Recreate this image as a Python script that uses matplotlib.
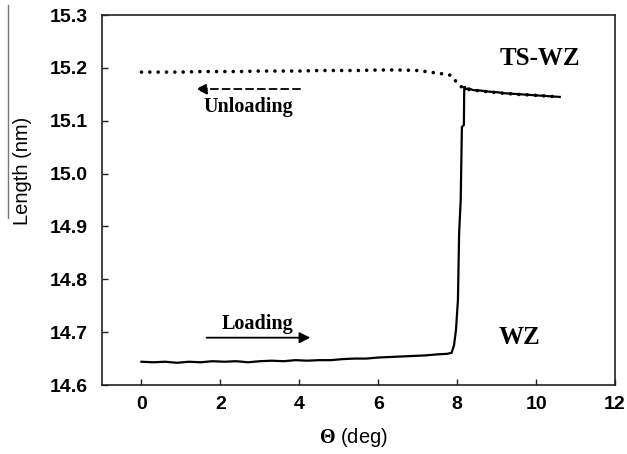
import matplotlib
matplotlib.use("Agg")
import matplotlib.pyplot as plt
from matplotlib.lines import Line2D

plt.rcParams["mathtext.fontset"] = "custom"
plt.rcParams["mathtext.bf"] = "Liberation Serif:bold"
plt.rcParams["mathtext.rm"] = "Liberation Sans"

# Loading curve (solid)
load_x = [0.0, 0.3, 0.6, 0.9, 1.2, 1.5, 1.8, 2.1, 2.4, 2.7, 3.0, 3.3, 3.6, 3.9,
          4.2, 4.5, 4.8, 5.1, 5.4, 5.7, 6.0, 6.3, 6.6, 6.9, 7.2, 7.5, 7.75, 7.86,
          7.92, 7.97, 8.02, 8.05, 8.09, 8.12, 8.17, 8.18, 8.22, 8.3, 8.4, 8.6,
          8.8, 9.0, 9.2, 9.4, 9.6, 9.8, 10.0, 10.2, 10.4, 10.6]
load_y = [14.644, 14.643, 14.644, 14.642, 14.644, 14.643, 14.645, 14.644, 14.645, 14.643,
          14.645, 14.646, 14.645, 14.647, 14.646, 14.647, 14.647, 14.649, 14.650, 14.650,
          14.652, 14.653, 14.654, 14.655, 14.656, 14.658, 14.659, 14.661,
          14.675, 14.704, 14.761, 14.888, 14.950, 15.088, 15.092, 15.165, 15.160, 15.161, 15.158, 15.157,
          15.155, 15.154, 15.152, 15.151, 15.150, 15.149, 15.148, 15.147, 15.146, 15.145]

# Unloading curve (dotted)
unload_x = [0.0, 0.5, 1.0, 1.5, 2.0, 2.5, 3.0, 3.5, 4.0, 4.5, 5.0, 5.5, 6.0, 6.5,
            7.0, 7.3, 7.6, 7.84, 7.95, 8.09, 8.2, 8.5, 9.0, 9.5, 10.0, 10.6]
unload_y = [15.192, 15.192, 15.192, 15.193, 15.193, 15.193, 15.194, 15.194, 15.194, 15.195,
            15.195, 15.195, 15.196, 15.196, 15.195, 15.192, 15.189, 15.186, 15.176, 15.165,
            15.160, 15.157, 15.153, 15.150, 15.148, 15.145]

x_ticks = [0, 2, 4, 6, 8, 10, 12]
y_ticks = [14.6, 14.7, 14.8, 14.9, 15.0, 15.1, 15.2, 15.3]

fig = plt.figure(figsize=(6.27, 4.54), dpi=100)
ax = fig.add_axes([102/627, 1-385/454, 513/627, 370/454])

ax.plot(load_x, load_y, color="black", lw=1.6, solid_joinstyle="miter")
ax.plot(unload_x, unload_y, color="black", lw=2.6, linestyle=(0, (0.01, 2.3)),
        dash_capstyle="round")

ax.set_xlim(-1, 12)
ax.set_ylim(14.6, 15.3)
ax.set_xticks(x_ticks)
ax.set_yticks(y_ticks)
ax.set_xticklabels([str(t) for t in x_ticks])
ax.set_yticklabels([f"{t:.1f}" for t in y_ticks])

for s in ax.spines.values():
    s.set_linewidth(1.2)
    s.set_color("#222222")
ax.tick_params(direction="in", length=4, width=1.0, color="#222222")
ax.tick_params(axis="y", pad=10.5)
ax.tick_params(axis="x", pad=8)
for lab in ax.get_xticklabels() + ax.get_yticklabels():
    lab.set_fontfamily("Liberation Sans")
    lab.set_fontweight("bold")
    lab.set_fontsize(14)

ax.set_ylabel("Length (nm)", fontfamily="Liberation Sans", fontsize=14.5)
ax.yaxis.set_label_coords(-0.136, 0.58)
ax.set_xlabel(r"$\mathbf{\Theta}$ (deg)", fontfamily="Liberation Sans", fontsize=14.5)
ax.xaxis.set_label_coords(0.49, -0.112)

serif = "Liberation Serif"
ax.text(10.09, 15.217, "TS-WZ", fontfamily=serif, fontweight="bold", fontsize=18,
        ha="center", va="center")
ax.text(9.59, 14.689, "WZ", fontfamily=serif, fontweight="bold", fontsize=18,
        ha="center", va="center")
ax.text(2.72, 15.126, "Unloading", fontfamily=serif, fontweight="bold", fontsize=14.5,
        ha="center", va="center")
ax.text(2.95, 14.715, "Loading", fontfamily=serif, fontweight="bold", fontsize=14.5,
        ha="center", va="center")

ax.annotate("", xy=(4.28, 14.6895), xytext=(1.65, 14.6895),
            arrowprops=dict(arrowstyle="-|>", color="black", lw=1.3,
                            mutation_scale=16, shrinkA=0, shrinkB=0))
ax.annotate("", xy=(1.38, 15.16), xytext=(4.02, 15.16),
            arrowprops=dict(arrowstyle="-|>", color="black", lw=1.3, linestyle=(0, (4, 2.5)),
                            mutation_scale=16, shrinkA=0, shrinkB=0))

# stray vertical rule at the left edge of the original image
fig.add_artist(Line2D([8/627, 8/627], [1-5/454, 1-218/454], color="#777777", lw=1.0,
                      transform=fig.transFigure))

fig.savefig("out.png", dpi=100)
